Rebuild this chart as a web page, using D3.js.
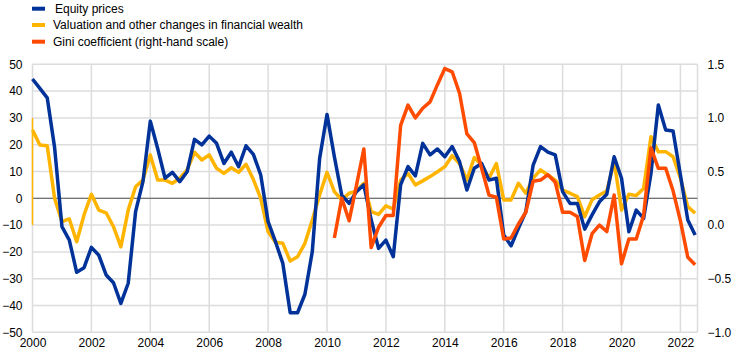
<!DOCTYPE html>
<html>
<head>
<meta charset="utf-8">
<script src="https://cdn.jsdelivr.net/npm/d3@7"></script>
<style>
  html, body { margin: 0; padding: 0; background: #fff; }
  svg { display: block; font-family: Arial, "Liberation Sans", sans-serif; }
</style>
</head>
<body>
<svg id="chart" width="744" height="358"></svg>
<script>
// ---- Data (quarterly, 2000 Q1 – 2022 Q3) ----
const startYear = 2000;
const seriesNames = ["Equity prices", "Valuation and other changes in financial wealth", "Gini coefficient (right-hand scale)"];

const equityPrices = [
  44.5, 41, 37.5, 19,
  -10.6, -15.6, -27.6, -25.9,
  -18.3, -21.2, -28.6, -31.5,
  -39.2, -31.7, -5.0, 6.2,
  28.8, 18.6, 7.5, 9.7,
  6.2, 9.9, 22, 19.9,
  23.2, 20.5, 13, 17.2,
  11.8, 19.6, 16.4, 8.7,
  -8.7, -16.2, -24.3, -42.7,
  -42.7, -35.8, -19.9, 14.9,
  31.3, 15.5, 1.2, -1.9,
  2.5, 5, -8, -18.7,
  -15.6, -21.8, 5, 11.8,
  8.4, 20.5, 16.2, 18.4,
  15.5, 19.3, 13.7, 3.1,
  11.2, 13, 6.8, 7.5,
  -13.7, -17.7, -11.2, -5,
  12.4, 19.3, 17.2, 16.2,
  2.5, -1.9, -1.9, -11.5,
  -6.2, -1.3, 1.5, 15.5,
  7.5, -12.5, -4.4, -7.5,
  9.3, 34.8, 25.5, 25.1,
  8.7, -8.1, -13.7
];

const valuationChanges = [
  25.5, 19.9, 19.6, 0,
  -8.7, -7.7, -16.2, -6.2,
  1.5, -4.4, -5.4, -10.6,
  -18.1, -4.4, 4.3, 6.8,
  16.2, 6.8, 6.8, 5.6,
  7.5, 10.6, 17.2, 14.3,
  16.2, 11.2, 9.3, 11.4,
  9.7, 12.7, 7, 0,
  -12.5, -16.4, -16.8, -23.4,
  -21.8, -16.8, -8.1, 1.2,
  9.7, 2.5, -0.6, 1.9,
  2.7, 5.6, -5, -6,
  -2.8, -4, 6.8, 9.3,
  5, 6.5, 8.1, 9.9,
  11.8, 15.9, 13, 6.8,
  15.2, 12.4, 7.5, 13,
  -0.6, -0.6, 5.6, 1.9,
  7.5, 10.6, 8.7, 6.8,
  3.1, 1.9, 0.6, -6.9,
  -0.5, 1.2, 2.7, 13.7,
  -4.4, 1.5, 1, 3.7,
  23, 17.4, 17.4, 15.5,
  7.5, -3.1, -5.6
];
// thin vertical stroke of the valuation series at the very start
const valuationStartBar = [30, -10];

// Gini coefficient starts 2010 Q2
const giniStart = 2010.25;
const giniCoefficient = [
  -0.12, 0.25, 0.04,
  0.37, 0.71, -0.21, -0.02,
  0.09, 0.09, 0.93, 1.12,
  1.0, 1.09, 1.15, 1.31,
  1.46, 1.43, 1.23, 0.85,
  0.77, 0.53, 0.28, 0.26,
  -0.13, -0.12, 0.01, 0.12,
  0.41, 0.42, 0.47, 0.40,
  0.12, 0.12, 0.08, -0.33,
  -0.08, 0.0, -0.06, 0.28,
  -0.36, -0.13, -0.13, 0.09,
  0.72, 0.53, 0.53, 0.32,
  0.04, -0.30, -0.37
];

const xTicks = [2000, 2002, 2004, 2006, 2008, 2010, 2012, 2014, 2016, 2018, 2020, 2022];
const leftTicks = [-50, -40, -30, -20, -10, 0, 10, 20, 30, 40, 50];
const rightTicks = [-1.0, -0.5, 0.0, 0.5, 1.0, 1.5];

const colors = ["#003299", "#FFB400", "#FF4B00"];

// ---- Layout ----
const svg = d3.select("#chart");
const plot = { left: 32.5, right: 697.5, top: 64.3, bottom: 332.3 };

const x = d3.scaleLinear().domain([2000, 2022.58]).range([plot.left, plot.right]);
const yL = d3.scaleLinear().domain([-50, 50]).range([plot.bottom, plot.top]);
const yR = d3.scaleLinear().domain([-1.0, 1.5]).range([plot.bottom, plot.top]);

// gridlines horizontal
svg.append("g").selectAll("line").data(leftTicks).join("line")
  .attr("x1", plot.left).attr("x2", plot.right)
  .attr("y1", d => yL(d)).attr("y2", d => yL(d))
  .attr("stroke", "#dcdcdc").attr("stroke-width", 1.5);

// gridlines vertical
svg.append("g").selectAll("line").data(xTicks).join("line")
  .attr("x1", d => x(d)).attr("x2", d => x(d))
  .attr("y1", plot.top).attr("y2", plot.bottom)
  .attr("stroke", "#dcdcdc").attr("stroke-width", 1.5);
svg.append("line")
  .attr("x1", plot.right).attr("x2", plot.right)
  .attr("y1", plot.top).attr("y2", plot.bottom)
  .attr("stroke", "#dcdcdc").attr("stroke-width", 1.5);

// zero line
svg.append("line")
  .attr("x1", plot.left).attr("x2", plot.right)
  .attr("y1", yL(0)).attr("y2", yL(0))
  .attr("stroke", "#595959").attr("stroke-width", 1);

// axes (labels only)
const leftAxis = d3.axisLeft(yL).tickValues(leftTicks).tickSize(0).tickPadding(0).tickFormat(d3.format("d"));
const gL = svg.append("g").attr("transform", `translate(${22.5},0)`).call(leftAxis);
gL.select(".domain").remove();
gL.selectAll("text").attr("font-size", 12).attr("fill", "#000").attr("font-family", "Arial, 'Liberation Sans', sans-serif");

const rightAxis = d3.axisRight(yR).tickValues(rightTicks).tickSize(0).tickPadding(0).tickFormat(d3.format(".1f"));
const gR = svg.append("g").attr("transform", `translate(${707.5},0)`).call(rightAxis);
gR.select(".domain").remove();
gR.selectAll("text").attr("font-size", 12).attr("fill", "#000").attr("font-family", "Arial, 'Liberation Sans', sans-serif");

const bottomAxis = d3.axisBottom(x).tickValues(xTicks).tickSize(0).tickPadding(0).tickFormat(d3.format("d"));
const gB = svg.append("g").attr("transform", `translate(0,${338})`).call(bottomAxis);
gB.select(".domain").remove();
gB.selectAll("text").attr("font-size", 12).attr("fill", "#000").attr("font-family", "Arial, 'Liberation Sans', sans-serif");

// thin start stroke for valuation series
svg.append("line")
  .attr("x1", x(startYear)).attr("x2", x(startYear))
  .attr("y1", yL(valuationStartBar[0])).attr("y2", yL(valuationStartBar[1]))
  .attr("stroke", colors[1]).attr("stroke-width", 1.5);

// lines
const q = (start, i) => start + i / 4;
const lineL = (start) => d3.line().x((d, i) => x(q(start, i))).y(d => yL(d));
const lineR = (start) => d3.line().x((d, i) => x(q(start, i))).y(d => yR(d));

svg.append("path").datum(valuationChanges)
  .attr("d", lineL(startYear))
  .attr("fill", "none").attr("stroke", colors[1]).attr("stroke-width", 3.5).attr("stroke-linejoin", "round");

svg.append("path").datum(equityPrices)
  .attr("d", lineL(startYear))
  .attr("fill", "none").attr("stroke", colors[0]).attr("stroke-width", 3.5).attr("stroke-linejoin", "round");

svg.append("path").datum(giniCoefficient)
  .attr("d", lineR(giniStart))
  .attr("fill", "none").attr("stroke", colors[2]).attr("stroke-width", 3.5).attr("stroke-linejoin", "round");

// legend
const legend = svg.append("g");
const legendY = [8.7, 25, 41.7];
seriesNames.forEach((name, i) => {
  legend.append("line")
    .attr("x1", 32).attr("x2", 45)
    .attr("y1", legendY[i]).attr("y2", legendY[i])
    .attr("stroke", colors[i]).attr("stroke-width", 4);
  legend.append("text")
    .attr("x", i === 0 ? 55 : 53).attr("y", legendY[i])
    .attr("dy", "0.35em")
    .attr("font-size", 12).attr("fill", "#000")
    .text(name);
});
</script>
</body>
</html>
